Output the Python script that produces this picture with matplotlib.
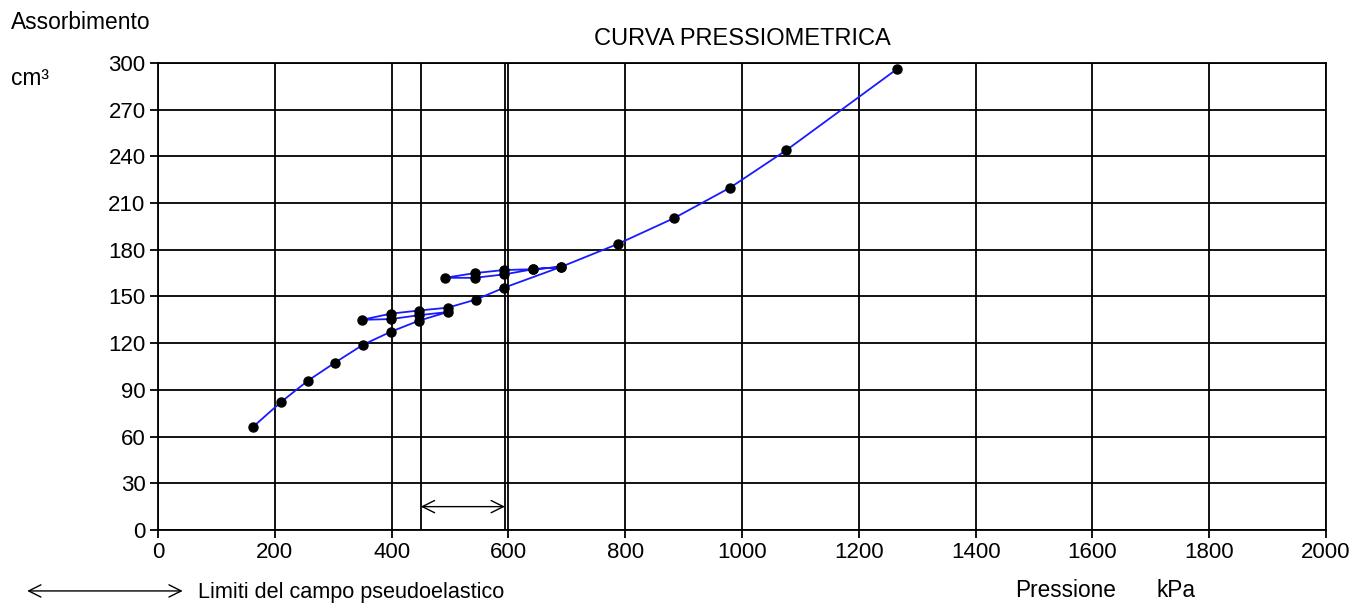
import matplotlib
matplotlib.use('Agg')
import matplotlib.pyplot as plt

# pressure (kPa) and volume absorbed (cm3), in test order
pressione = [162, 210, 257, 303, 351, 399, 447, 496, 447, 399, 349, 399, 447, 496,
             544, 593, 690, 642, 592, 542, 491, 542, 593, 642, 690, 787, 884, 980,
             1076, 1265]
assorbimento = [66, 82, 96, 107.5, 119, 127.4, 134.5, 140, 138, 135.5, 135, 139, 141,
                142.8, 148, 155.7, 169, 167.5, 167, 165, 162, 162, 164.2, 167.5, 169,
                183.7, 200.4, 220, 244, 296]

# limits of the pseudo-elastic range (kPa)
limiti = [450, 594]

x_ticks = list(range(0, 2001, 200))
y_ticks = list(range(0, 301, 30))

plt.rcParams['font.family'] = ['Liberation Sans', 'DejaVu Sans']

fig = plt.figure(figsize=(13.54, 6.03), dpi=100)
ax = fig.add_axes([0.1167, 0.1211, 0.8626, 0.7744])

ax.set_xlim(0, 2000)
ax.set_ylim(0, 300)
ax.set_xticks(x_ticks)
ax.set_yticks(y_ticks)
ax.grid(True, color='black', linewidth=1.3)
ax.set_axisbelow(True)
for s in ax.spines.values():
    s.set_linewidth(1.3)
ax.tick_params(direction='out', length=6, width=1.3, labelsize=16, pad=3)

for lx in limiti:
    ax.axvline(lx, color='black', linewidth=1.3, zorder=1)

ax.plot(pressione, assorbimento, color='#1a1aff', linewidth=1.3, marker='o',
        markersize=6.5, markerfacecolor='black', markeredgecolor='black', zorder=3)

ax.annotate('', xy=(limiti[1], 15), xytext=(limiti[0], 15),
            arrowprops=dict(arrowstyle='<->', color='black', lw=1.0,
                            mutation_scale=22, shrinkA=0, shrinkB=0))

ax.set_title('CURVA PRESSIOMETRICA', fontsize=17, pad=13)

fig.text(0.008, 0.962, 'Assorbimento', fontsize=16.4, va='center', ha='left')
fig.text(0.008, 0.870, 'cm³', fontsize=16.4, va='center', ha='left')
fig.text(0.750, 0.020, 'Pressione', fontsize=16.3, va='center', ha='left')
fig.text(0.8545, 0.020, 'kPa', fontsize=16.3, va='center', ha='left')
fig.text(0.146, 0.018, 'Limiti del campo pseudoelastico', fontsize=15.6, va='center', ha='left')
fig.add_artist(matplotlib.patches.FancyArrowPatch(
    (0.018, 0.020), (0.137, 0.020), transform=fig.transFigure,
    arrowstyle='<->', mutation_scale=22, lw=1.0, color='black'))

fig.savefig('out.png', dpi=100)
